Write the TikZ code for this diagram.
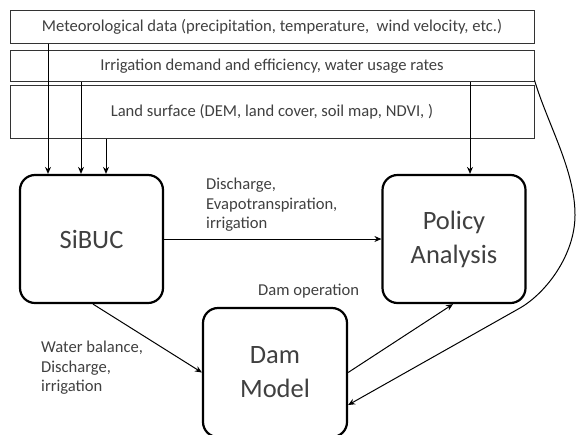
\documentclass[tikz,border=0pt]{standalone}
\usepackage{fontspec}
\setmainfont{Carlito}
\usetikzlibrary{arrows.meta}
\definecolor{txt}{HTML}{404040}
\definecolor{edge}{HTML}{333333}
\begin{document}
\begin{tikzpicture}[x=1pt,y=-1pt,
  databox/.style={draw=edge,line width=1pt,minimum width=524pt,inner sep=0pt,text=txt,font=\fontsize{16.6}{20}\selectfont},
  model/.style={draw=black,line width=2.2pt,rounded corners=15pt,minimum width=143pt,minimum height=128pt,inner sep=0pt,align=center,text=txt,font=\fontsize{26.5}{34}\selectfont},
  lbl/.style={text=txt,align=left,inner sep=0pt,anchor=west,font=\fontsize{16.6}{19.5}\selectfont},
  arr/.style={draw=black,line width=1pt,-{Stealth[length=7pt,width=6pt]}}]
\useasboundingbox (0,0) rectangle (577,434);
\node[databox,minimum height=33pt] (met) at (272,26.5) {Meteorological data (precipitation, temperature, \ wind velocity, etc.)};
\node[databox,minimum height=31.5pt] (irr) at (272,66) {Irrigation demand and efficiency, water usage rates};
\node[databox,minimum height=53pt] (land) at (272,111.5) {Land surface (DEM, land cover, soil map, NDVI, )};
\node[model] (sibuc) at (91.5,239) {SiBUC};
\node[model] (policy) at (454,239) {Policy\\Analysis};
\node[model,minimum width=144pt,minimum height=129pt] (dam) at (275,372.5) {Dam\\Model};
\coordinate (xa) at (48,0);
\coordinate (xb) at (81,0);
\coordinate (xc) at (106,0);
\coordinate (xd) at (470,0);
\coordinate (bulge) at (575,215);
\coordinate (bend) at (520,308);
\draw[arr] (xa |- met.south) -- (xa |- sibuc.north);
\draw[arr] (xb |- irr.south) -- (xb |- sibuc.north);
\draw[arr] (xc |- land.south) -- (xc |- sibuc.north);
\draw[arr] (xd |- irr.south) -- (xd |- policy.north);
\draw[arr] (sibuc.east) -- (policy.west);
\draw[arr] ([xshift=1.5pt]sibuc.south) -- (dam.west);
\draw[arr] (dam.east) -- ([xshift=-1pt]policy.south);
\draw[arr] ([yshift=2pt]irr.south east) .. controls (548,125) and (575,170) .. (bulge)
  .. controls (575,255) and (546,293) .. (bend) -- ([yshift=-32.5pt]dam.east);
\node[lbl] (l1) at (206,205) {Discharge,\\Evapotranspiration,\\irrigation};
\node[lbl] (l2) at (41,368) {Water balance,\\Discharge,\\irrigation};
\node[lbl] (l3) at (258,291) {Dam operation};
\end{tikzpicture}
\end{document}
